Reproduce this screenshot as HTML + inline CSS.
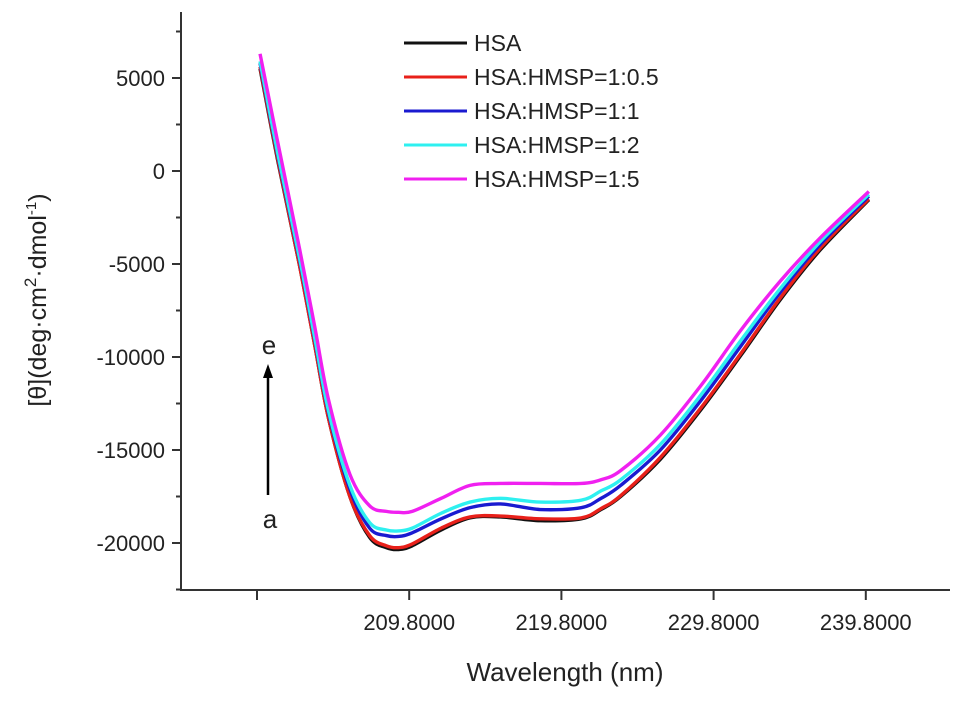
<!DOCTYPE html>
<html><head><meta charset="utf-8"><style>
body{margin:0;background:#fff}
svg text{font-family:"Liberation Sans",Arial,sans-serif;fill:#222}
</style></head><body>
<svg id="chart" width="969" height="702">
<g id="axes"></g>
<g id="series"></g>
<g id="legend"></g>
<text x="565" y="681" font-size="26" text-anchor="middle">Wavelength (nm)</text>
<text transform="translate(46,300) rotate(-90)" font-size="25" text-anchor="middle">[θ](deg·cm<tspan dy="-10" font-size="17">2</tspan><tspan dy="10">·dmol</tspan><tspan dy="-10" font-size="15">-1</tspan><tspan dy="10">)</tspan></text>
<g>
<line x1="268" y1="495" x2="268" y2="374" stroke="#000" stroke-width="2.5"/>
<polygon points="263,378 273,378 268,364" fill="#000"/>
<text x="269" y="354" font-size="26" text-anchor="middle">e</text>
<text x="270" y="528" font-size="26" text-anchor="middle">a</text>
</g>
</svg>
<script>
const wavelengths=[200,201.15,202.6,203.6,204.5,205.9,207.2,208.3,209.1,210.0,211.9,213.8,215.8,218.4,221.1,222.4,223.7,226.3,229,231.6,234.2,236.8,240];
const hsa=[5500,600,-5100,-9400,-13300,-17500,-19700,-20250,-20350,-20150,-19300,-18650,-18600,-18800,-18700,-18200,-17500,-15500,-12800,-9900,-6900,-4250,-1550];
const ratio05=[5600,700,-5100,-9400,-13300,-17500,-19600,-20150,-20250,-20050,-19200,-18600,-18550,-18700,-18650,-18150,-17450,-15400,-12700,-9800,-6800,-4150,-1500];
const ratio1=[5800,900,-4800,-9100,-13000,-17100,-19200,-19600,-19650,-19450,-18700,-18100,-17900,-18200,-18100,-17600,-16900,-15000,-12300,-9400,-6500,-3950,-1350];
const ratio2=[5900,1000,-4700,-9000,-12900,-16900,-18900,-19300,-19350,-19200,-18400,-17800,-17600,-17800,-17700,-17200,-16600,-14700,-12000,-9100,-6300,-3800,-1250];
const ratio5=[6300,1600,-4200,-8400,-12300,-16300,-18000,-18300,-18350,-18300,-17600,-16900,-16800,-16800,-16800,-16600,-16100,-14200,-11500,-8550,-5900,-3600,-1100];
const seriesNames=["HSA","HSA:HMSP=1:0.5","HSA:HMSP=1:1","HSA:HMSP=1:2","HSA:HMSP=1:5"];
const seriesColors=["#111","#e8201a","#1a1ad0","#2ef0f0","#f020f0"];
const xTicks=[199.8,209.8,219.8,229.8,239.8];
const xTickLabels=["","209.8000","219.8000","229.8000","239.8000"];
const yTicks=[5000,0,-5000,-10000,-15000,-20000];
const yTickLabels=["5000","0","-5000","-10000","-15000","-20000"];
const yMinor=[7500,2500,-2500,-7500,-12500,-17500,-22500];
const X=w=>257+(w-199.8)*15.22;
const Y=v=>171-v/5000*93;
const NS="http://www.w3.org/2000/svg";
function mk(tag,attrs,parent){const e=document.createElementNS(NS,tag);for(const k in attrs)e.setAttribute(k,attrs[k]);parent.appendChild(e);return e;}
const axes=document.getElementById('axes');
let yl=mk('line',{x1:181,y1:12,x2:181,y2:590,stroke:'#333','stroke-width':2},axes);


let xl=mk('line',{x1:180,y1:590,x2:950,y2:590,stroke:'#333','stroke-width':2},axes);


yTicks.forEach((v,i)=>{mk('line',{x1:181,y1:Y(v),x2:172,y2:Y(v),stroke:'#333','stroke-width':2},axes);
const t=mk('text',{x:165,y:Y(v)+8,'font-size':22,'text-anchor':'end'},axes);t.textContent=yTickLabels[i];

});
yMinor.forEach(v=>mk('line',{x1:181,y1:Y(v),x2:176,y2:Y(v),stroke:'#333','stroke-width':2},axes));
xTicks.forEach((w,i)=>{mk('line',{x1:X(w),y1:590,x2:X(w),y2:600,stroke:'#333','stroke-width':2},axes);
const t=mk('text',{x:X(w),y:630,'font-size':22,'text-anchor':'middle'},axes);t.textContent=xTickLabels[i];

});
const data=[hsa,ratio05,ratio1,ratio2,ratio5];
const sg=document.getElementById('series');
function pathFor(vals){const p=wavelengths.map((w,i)=>[X(w),Y(vals[i])]);let d=`M${p[0][0]},${p[0][1]}`;
for(let i=0;i<p.length-1;i++){const p0=p[i-1]||p[i],p1=p[i],p2=p[i+1],p3=p[i+2]||p2;
d+=` C${p1[0]+(p2[0]-p0[0])/6},${p1[1]+(p2[1]-p0[1])/6} ${p2[0]-(p3[0]-p1[0])/6},${p2[1]-(p3[1]-p1[1])/6} ${p2[0]},${p2[1]}`;}return d;}
data.forEach((vals,i)=>{const el=mk('path',{d:pathFor(vals),fill:'none',stroke:seriesColors[i],'stroke-width':3.4,'stroke-linejoin':'round'},sg);

});
const lg=document.getElementById('legend');
seriesNames.forEach((n,i)=>{const y=43+i*34;
const l=mk('line',{x1:404,y1:y,x2:467,y2:y,stroke:seriesColors[i],'stroke-width':3},lg);


const t=mk('text',{x:474,y:y+8,'font-size':23},lg);t.textContent=n;

});
</script>
</body></html>
